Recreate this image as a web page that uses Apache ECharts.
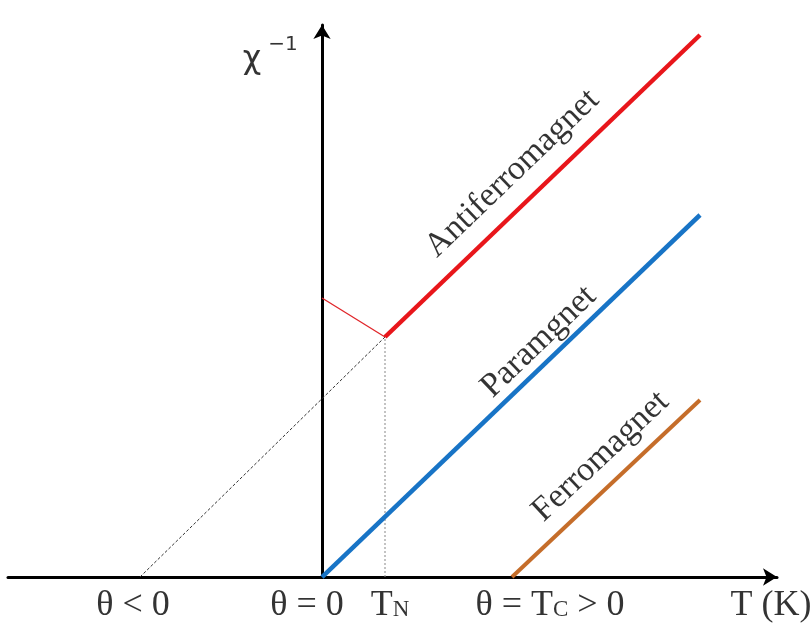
<!DOCTYPE html>
<html>
<head>
<meta charset="utf-8">
<script src="https://cdn.jsdelivr.net/npm/echarts@6/dist/echarts.min.js"></script>
<style>
  html, body { margin: 0; padding: 0; background: #fff; }
  #chart { width: 812px; height: 625px; }
</style>
</head>
<body>
<div id="chart"></div>
<script>
// Characteristic temperatures (arbitrary units, θ = 0 at the origin)
const thetaNeg = -18.2;   // Weiss temperature of the antiferromagnet
const neelT = 6.3;        // Néel temperature T_N
const curieT = 19.0;      // Curie temperature T_C
const tEnd = 37.8;        // last plotted temperature

// Inverse susceptibility χ⁻¹ against T
const paraLine = [[0, 0], [tEnd, 36.2]];
const antiLine = [[neelT, 24.0], [tEnd, 54.2]];
const ferroLine = [[curieT, 0], [tEnd, 17.7]];
const antiExtrap = [[thetaNeg, 0], [neelT, 24.0]];
const neelDrop = [[neelT, 0], [neelT, 24.0]];
const belowNeel = [[0, 27.9], [neelT, 24.0]];

const xRange = [-31.4, 45.5];
const yRange = [0, 55.2];

// Labels under the temperature axis
const tickValues = [thetaNeg, 0, neelT, curieT, xRange[1]];
const tickLabels = ['θ < 0', 'θ = 0', '{t|T}{s|N}', 'θ = {t|T}{s|C} > 0', 'T (K)'];
const tickShift = [-7, -15, 5, 38, -6];

// Curve names
const curveNames = ['Antiferromagnet', 'Paramgnet', 'Ferromagnet'];
const curveLines = [antiLine, paraLine, ferroLine];
const curveAt = [0.47, 0.61, 0.57];
const curveGap = [30, 20, 27];

const FONT = '"Liberation Serif", "Times New Roman", serif';
const chart = echarts.init(document.getElementById('chart'));

function along(line, f) {
  return [
    line[0][0] + (line[1][0] - line[0][0]) * f,
    line[0][1] + (line[1][1] - line[0][1]) * f
  ];
}

function lineSeries(data, color, width, type) {
  return {
    type: 'line', data: data, symbol: 'none', silent: true,
    lineStyle: { color: color, width: width, type: type || 'solid' },
    z: 3
  };
}

const richSub = {
  t: { fontFamily: FONT, fontSize: 36, color: '#000' },
  s: { fontFamily: FONT, fontSize: 23, color: '#000', verticalAlign: 'bottom', padding: [0, 0, 3, 0] }
};

function build(angles) {
  const tickItems = tickValues.map((v, i) => ({
    value: [v, 0],
    label: {
      show: true, position: 'inside', formatter: tickLabels[i],
      offset: [tickShift[i], 29], fontFamily: FONT, fontSize: 36, color: '#000',
      rich: richSub
    }
  }));
  const nameItems = curveNames.map((n, i) => ({
    value: along(curveLines[i], curveAt[i]),
    label: {
      show: true, position: 'inside', formatter: n, rotate: angles[i],
      offset: [0, -curveGap[i]], fontFamily: FONT, fontSize: 34, color: '#000'
    }
  }));
  const chiItems = [
    { value: [0, yRange[1]], label: { show: true, position: 'inside', formatter: 'χ',
      offset: [-70, 35], fontFamily: '"DejaVu Sans", sans-serif', fontSize: 32, color: '#000' } },
    { value: [0, yRange[1]], label: { show: true, position: 'inside', formatter: '−1',
      offset: [-39, 20], fontFamily: '"DejaVu Sans", sans-serif', fontSize: 20, color: '#000' } }
  ];
  return {
    animation: false,
    backgroundColor: '#fff',
    grid: { left: 8, right: 35, top: 25, bottom: 48, containLabel: false },
    xAxis: {
      type: 'value', min: xRange[0], max: xRange[1],
      axisLine: { show: true, onZero: false, symbol: ['none', 'arrow'], symbolSize: [13, 14],
        lineStyle: { color: '#000', width: 3 } },
      axisTick: { show: false }, axisLabel: { show: false }, splitLine: { show: false }
    },
    yAxis: {
      type: 'value', min: yRange[0], max: yRange[1],
      axisLine: { show: true, onZero: true, symbol: ['none', 'arrow'], symbolSize: [13, 14],
        lineStyle: { color: '#000', width: 3 } },
      axisTick: { show: false }, axisLabel: { show: false }, splitLine: { show: false }
    },
    series: [
      lineSeries(antiExtrap, '#333', 1, [3, 2]),
      lineSeries(neelDrop, '#888', 1, [2, 2]),
      lineSeries(belowNeel, '#e0262a', 1.3),
      lineSeries(paraLine, '#1874c6', 4.5),
      lineSeries(antiLine, '#e8161b', 4.5),
      lineSeries(ferroLine, '#c56d2a', 4),
      {
        type: 'scatter', symbolSize: 0, silent: true, clip: false, z: 5,
        data: tickItems.concat(nameItems, chiItems)
      }
    ]
  };
}

// First pass lays out the axes; the text angles then follow each line on screen.
chart.setOption(build([0, 0, 0]));
const angles = curveLines.map(l => {
  const a = chart.convertToPixel({ gridIndex: 0 }, l[0]);
  const b = chart.convertToPixel({ gridIndex: 0 }, l[1]);
  return Math.atan2(a[1] - b[1], b[0] - a[0]) * 180 / Math.PI;
});
chart.setOption(build(angles));
</script>
</body>
</html>
